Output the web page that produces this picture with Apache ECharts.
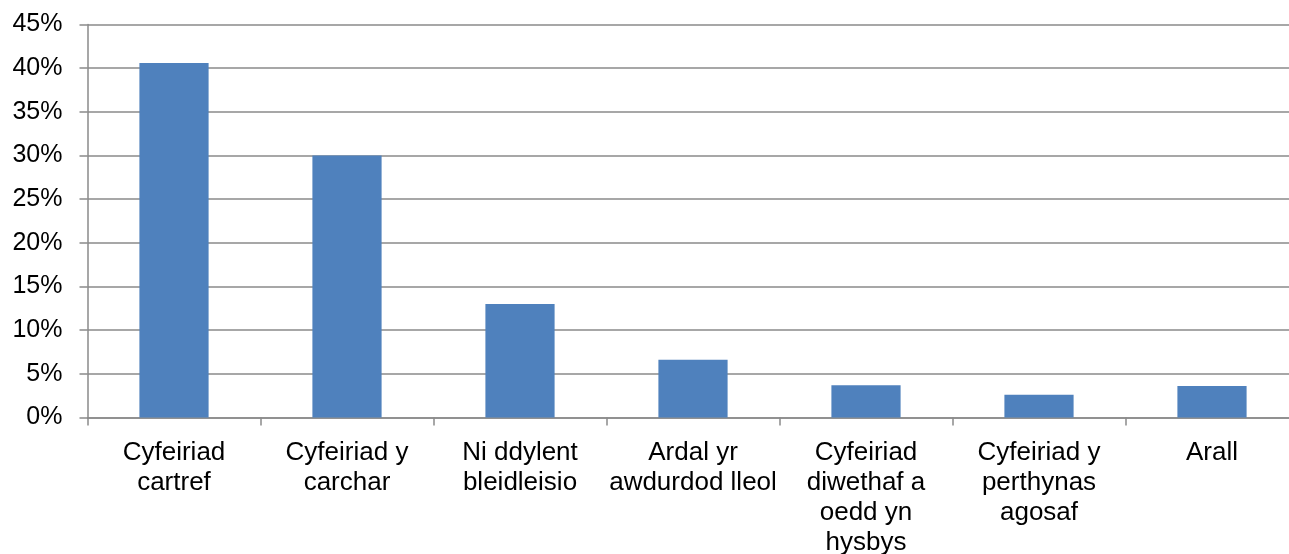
<!DOCTYPE html>
<html>
<head>
<meta charset="utf-8">
<script src="https://cdn.jsdelivr.net/npm/echarts@6/dist/echarts.min.js"></script>
<style>
  html, body { margin: 0; padding: 0; background: #ffffff; }
  #chart { width: 1289px; height: 554px; }
</style>
</head>
<body>
<div id="chart"></div>
<script>
// Category labels (line breaks as they wrap under each bar)
const categories = [
  'Cyfeiriad\ncartref',
  'Cyfeiriad y\ncarchar',
  'Ni ddylent\nbleidleisio',
  'Ardal yr\nawdurdod lleol',
  'Cyfeiriad\ndiwethaf a\noedd yn\nhysbys',
  'Cyfeiriad y\nperthynas\nagosaf',
  'Arall'
];

// Share of responses, in percent
const values = [40.6, 30.0, 13.0, 6.6, 3.7, 2.6, 3.6];

// Value axis range and step, in percent
const yMin = 0;
const yMax = 45;
const yStep = 5;

const gridGrey = '#8a8a8a';
const fontFamily = '"Liberation Sans", Arial, sans-serif';

const chart = echarts.init(document.getElementById('chart'), null, { renderer: 'canvas' });

chart.setOption({
  animation: false,
  backgroundColor: '#ffffff',
  grid: {
    left: 87.5, top: 24.5, width: 1211, bottom: 136.5,
    containLabel: false, outerBoundsMode: 'none'
  },
  xAxis: {
    type: 'category',
    data: categories,
    axisLine: { show: true, lineStyle: { color: gridGrey, width: 1.5 } },
    axisTick: { show: true, alignWithLabel: false, length: 8, lineStyle: { color: gridGrey, width: 1.5 } },
    axisLabel: {
      margin: 20, lineHeight: 30, interval: 0, align: 'center',
      fontFamily: fontFamily, fontSize: 26, color: '#000000'
    },
    splitLine: { show: false }
  },
  yAxis: {
    type: 'value',
    min: yMin,
    max: yMax,
    interval: yStep,
    axisLine: { show: true, lineStyle: { color: gridGrey, width: 1.5 } },
    axisTick: { show: true, length: 8, lineStyle: { color: gridGrey, width: 1.5 } },
    axisLabel: {
      margin: 25, formatter: '{value}%',
      fontFamily: fontFamily, fontSize: 25, color: '#000000'
    },
    splitLine: { show: true, lineStyle: { color: gridGrey, width: 1.5 } }
  },
  series: [{
    type: 'bar',
    data: values,
    barWidth: '40%',
    itemStyle: { color: '#4f81bd' }
  }]
});
</script>
</body>
</html>
